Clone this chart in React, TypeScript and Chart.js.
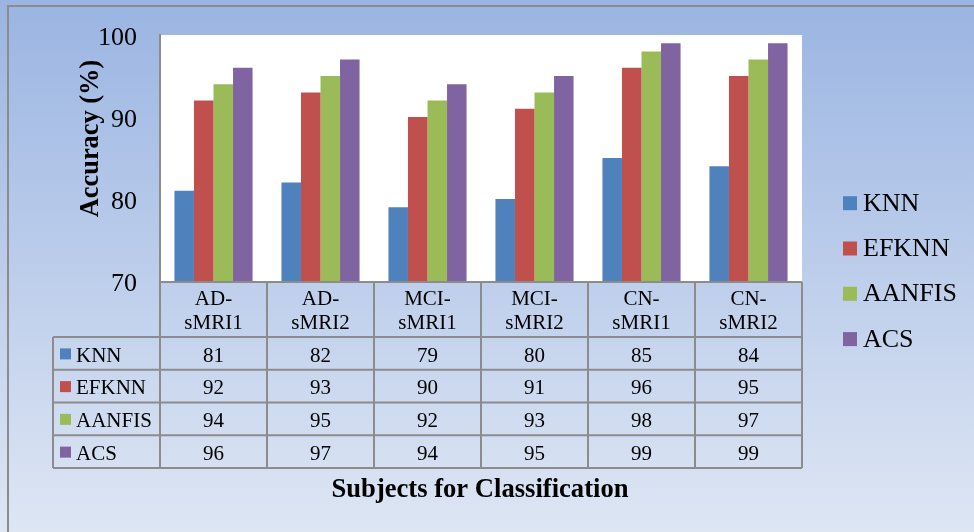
import React, { useEffect, useRef } from "react";
import { Chart, registerables } from "chart.js";

Chart.register(...registerables);

const categories: string[][] = [
  ["AD-", "sMRI1"],
  ["AD-", "sMRI2"],
  ["MCI-", "sMRI1"],
  ["MCI-", "sMRI2"],
  ["CN-", "sMRI1"],
  ["CN-", "sMRI2"],
];
const seriesNames = ["KNN", "EFKNN", "AANFIS", "ACS"];
const knn = [81, 82, 79, 80, 85, 84];
const efknn = [92, 93, 90, 91, 96, 95];
const aanfis = [94, 95, 92, 93, 98, 97];
const acs = [96, 97, 94, 95, 99, 99];
const seriesColors = ["#4f81bd", "#c0504d", "#9bbb59", "#8064a2"];
const yTicks = [70, 80, 90, 100];
const yTitle = "Accuracy (%)";
const xTitle = "Subjects for Classification";

const FONT = "'Times New Roman', 'Liberation Serif', serif";
const GRID = "#8c8c8c";

const decorPlugin = {
  id: "decor",
  beforeDraw(chart: any) {
    const { ctx, width, height, chartArea } = chart;
    ctx.save();
    const g = ctx.createLinearGradient(0, 6, 0, height);
    g.addColorStop(0, "#9bb5e2");
    g.addColorStop(1, "#dee6f4");
    ctx.fillStyle = g;
    ctx.fillRect(0, 0, width, height);
    ctx.fillStyle = GRID;
    ctx.fillRect(7, 5, width - 7, 2);
    ctx.fillRect(7, 5, 2, height - 5);
    ctx.fillStyle = "#ffffff";
    ctx.fillRect(chartArea.left, chartArea.top, chartArea.right - chartArea.left, chartArea.bottom - chartArea.top);
    ctx.restore();
  },
  afterDraw(chart: any) {
    const { ctx, chartArea } = chart;
    const xs = chart.scales.x;
    const ys = chart.scales.y;
    const n = chart.data.labels.length;
    const colW = (chartArea.right - chartArea.left) / n;
    const left = chartArea.left;
    const right = chartArea.right;
    const labelLeft = 53;
    const headTop = chartArea.bottom + 1;
    const headBottom = 337;
    const rowH = (468 - headBottom) / 4;
    ctx.save();
    ctx.strokeStyle = GRID;
    ctx.lineWidth = 2;
    ctx.beginPath();
    ctx.moveTo(left, headTop);
    ctx.lineTo(right, headTop);
    for (let i = 0; i <= n; i++) {
      const x = left + i * colW;
      ctx.moveTo(x, headTop);
      ctx.lineTo(x, headBottom + rowH * 4);
    }
    for (let r = 0; r <= 4; r++) {
      const y = headBottom + r * rowH;
      ctx.moveTo(labelLeft, y);
      ctx.lineTo(right, y);
    }
    ctx.moveTo(labelLeft, headBottom);
    ctx.lineTo(labelLeft, headBottom + rowH * 4);
    ctx.stroke();

    ctx.fillStyle = "#000";
    ctx.textBaseline = "alphabetic";

    // y tick labels
    ctx.font = `26px ${FONT}`;
    ctx.textAlign = "right";
    yTicks.forEach((v) => {
      ctx.fillText(String(v), 137, ys.getPixelForValue(v) + 10);
    });

    // table header
    ctx.textAlign = "center";
    ctx.font = `21px ${FONT}`;
    chart.data.labels.forEach((lab: string[], i: number) => {
      const cx = xs.getPixelForValue(i);
      ctx.fillText(lab[0], cx, 305);
      ctx.fillText(lab[1], cx, 329);
    });
    // table rows
    chart.data.datasets.forEach((ds: any, r: number) => {
      const cy = headBottom + rowH * r + rowH / 2;
      ctx.fillStyle = ds.backgroundColor;
      ctx.fillRect(60, cy - 5, 11, 11);
      ctx.fillStyle = "#000";
      ctx.textAlign = "left";
      ctx.fillText(ds.label, 76, cy + 8.3);
      ctx.textAlign = "center";
      ds.data.forEach((v: number, i: number) => {
        ctx.fillText(String(v), xs.getPixelForValue(i), cy + 8.3);
      });
    });

    // legend
    ctx.font = `26px ${FONT}`;
    chart.data.datasets.forEach((ds: any, r: number) => {
      const base = 210.7 + r * 45.3;
      ctx.fillStyle = ds.backgroundColor;
      ctx.fillRect(843, base - 14.5, 14, 14);
      ctx.fillStyle = "#000";
      ctx.textAlign = "left";
      ctx.fillText(ds.label, 863, base);
    });

    // axis titles
    ctx.font = `bold 26.6px ${FONT}`;
    ctx.textAlign = "center";
    ctx.fillText(xTitle, 480, 497);
    ctx.font = `bold 26.4px ${FONT}`;
    ctx.translate(97.5, 138.5);
    ctx.rotate(-Math.PI / 2);
    ctx.fillText(yTitle, 0, 0);
    ctx.restore();
  },
};

export default function App() {
  const ref = useRef<HTMLCanvasElement>(null);
  useEffect(() => {
    if (!ref.current) return;
    const seriesValues = [knn, efknn, aanfis, acs];
    const chart = new Chart(ref.current, {
      type: "bar",
      data: {
        labels: categories as any,
        datasets: seriesNames.map((name, i) => ({
          label: name,
          data: seriesValues[i],
          backgroundColor: seriesColors[i],
          borderWidth: 0,
          categoryPercentage: 0.73,
          barPercentage: 1.0,
        })),
      },
      options: {
        animation: false,
        responsive: false,
        layout: { padding: { left: 0, top: 35, right: 172, bottom: 251 } },
        plugins: { legend: { display: false }, tooltip: { enabled: false } },
        scales: {
          x: { display: false },
          y: {
            min: 70,
            max: 100,
            afterBuildTicks: (s: any) => {
              s.ticks = yTicks.map((v) => ({ value: v }));
            },
            afterFit: (s: any) => {
              s.width = 160;
            },
            ticks: { display: false },
            grid: { display: false, drawTicks: false },
            border: { display: true, color: GRID, width: 2 },
          },
        },
      },
      plugins: [decorPlugin],
    });
    return () => chart.destroy();
  }, []);
  return (
    <div style={{ position: "fixed", left: 0, top: 0, width: 974, height: 532 }}>
      <canvas ref={ref} width={974} height={532} />
    </div>
  );
}
